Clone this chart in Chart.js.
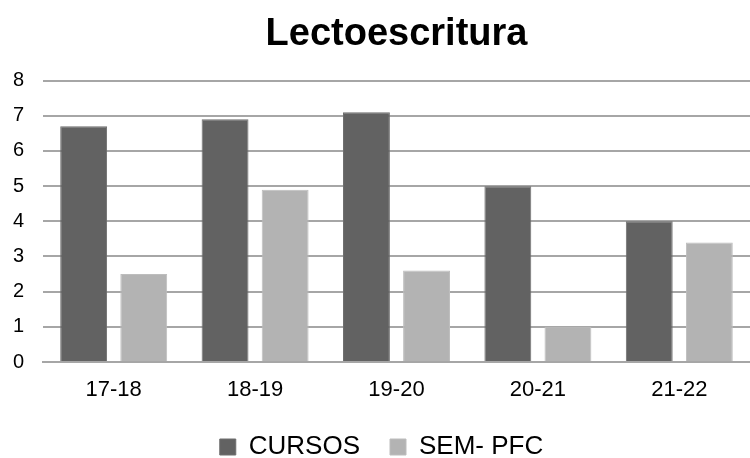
<!DOCTYPE html>
<html>
<head>
<meta charset="utf-8">
<script src="https://cdn.jsdelivr.net/npm/chart.js@4"></script>
<style>
  html, body { margin: 0; padding: 0; background: #fff; overflow: hidden; }
  #wrap { width: 750px; height: 458px; }
</style>
</head>
<body>
<div id="wrap"><canvas id="myChart" width="750" height="458"></canvas></div>
<script>
// Datos del gráfico
const periodos = ['17-18', '18-19', '19-20', '20-21', '21-22'];
const cursos = [6.7, 6.9, 7.1, 5.0, 4.0];
const semPfc = [2.5, 4.9, 2.6, 1.0, 3.4];
const yTicks = [0, 1, 2, 3, 4, 5, 6, 7, 8];

const fuente = 'Liberation Sans, Arial, sans-serif';

// La leyenda queda pegada al borde inferior: se recorta su alto reservado
const ajusteLeyenda = {
    id: 'ajusteLeyenda',
    afterInit(chart) {
        const leyenda = chart.legend;
        const fitOriginal = leyenda.fit;
        leyenda.fit = function () {
            fitOriginal.call(this);
            this.height -= 12;
        };
    }
};

const ctx = document.getElementById('myChart').getContext('2d');
const myChart = new Chart(ctx, {
    type: 'bar',
    data: {
        labels: periodos,
        datasets: [{
            label: 'CURSOS',
            data: cursos,
            backgroundColor: '#626262',
            borderColor: '#6e6e6e',
            borderWidth: 1,
            categoryPercentage: 0.85,
            barPercentage: 0.78
        }, {
            label: 'SEM- PFC',
            data: semPfc,
            backgroundColor: '#b3b3b3',
            borderColor: '#bdbdbd',
            borderWidth: 1,
            categoryPercentage: 0.85,
            barPercentage: 0.78
        }]
    },
    plugins: [ajusteLeyenda],
    options: {
        responsive: false,
        animation: false,
        layout: { padding: { left: 13, right: 0, top: 12, bottom: 0 } },
        plugins: {
            title: {
                display: true,
                fullSize: false,
                text: 'Lectoescritura',
                color: '#000',
                font: { family: fuente, size: 38, weight: 'bold' },
                padding: { top: 0, bottom: 23 }
            },
            legend: {
                position: 'bottom',
                labels: {
                    color: '#000',
                    font: { family: fuente, size: 26 },
                    boxWidth: 16,
                    boxHeight: 16,
                    padding: 30
                }
            },
            tooltip: { enabled: false }
        },
        scales: {
            x: {
                afterFit: axis => { axis.height = 42; },
                grid: { display: false, drawTicks: false },
                border: { color: '#a6a6a6', width: 2 },
                ticks: { color: '#000', font: { family: fuente, size: 22 }, padding: 15 }
            },
            y: {
                min: 0,
                max: 8,
                afterBuildTicks: axis => { axis.ticks = yTicks.map(v => ({ value: v })); },
                afterFit: axis => { axis.width = 30; },
                grid: { color: '#a6a6a6', lineWidth: 2, drawTicks: false },
                border: { display: false },
                ticks: { color: '#000', font: { family: fuente, size: 20 }, padding: 19 }
            }
        }
    }
});
</script>
</body>
</html>
